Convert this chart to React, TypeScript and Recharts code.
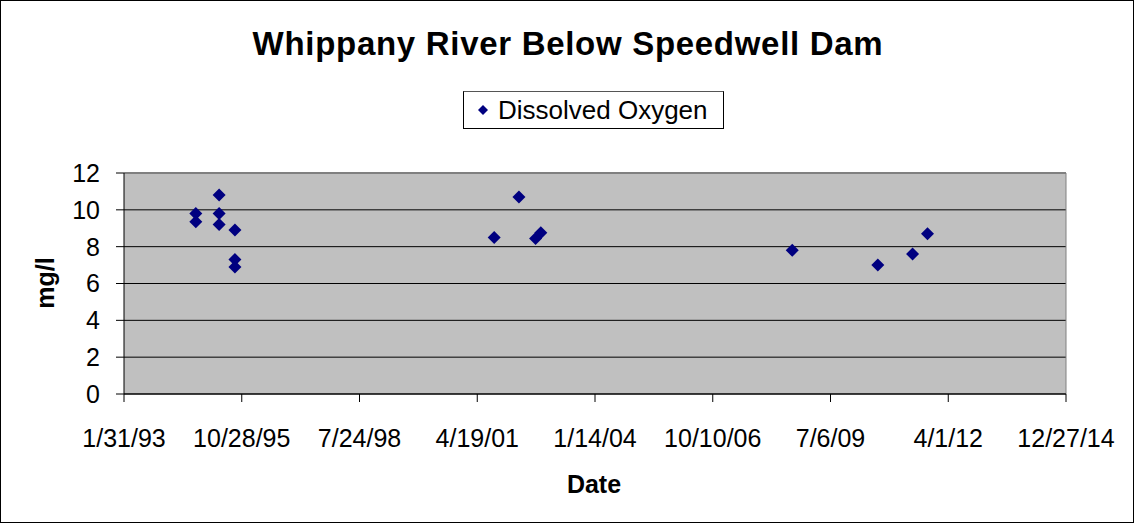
import React from 'react';
import {
  ScatterChart,
  Scatter,
  XAxis,
  YAxis,
  CartesianGrid,
  ReferenceLine,
  Legend,
} from 'recharts';

// sample dates and dissolved oxygen, mg/l
const sampleDates = [
  '1994-10-03', '1994-10-03',
  '1995-04-19', '1995-04-19', '1995-04-19',
  '1995-08-31', '1995-08-31', '1995-08-31',
  '2001-09-10', '2002-04-08', '2002-08-27', '2002-10-11',
  '2008-08-15', '2010-08-12', '2011-06-03', '2011-10-08',
];
const oxygen = [
  9.8, 9.35,
  10.8, 9.8, 9.2,
  8.9, 7.3, 6.9,
  8.5, 10.7, 8.45, 8.75,
  7.8, 7.0, 7.6, 8.7,
];

const tickDates = [
  '1993-01-31', '1995-10-28', '1998-07-24', '2001-04-19', '2004-01-14',
  '2006-10-10', '2009-07-06', '2012-04-01', '2014-12-27',
];
const yTicks = [0, 2, 4, 6, 8, 10, 12];

const FONT = 'Arial, "Liberation Sans", sans-serif';

const dayNum = (s: string) => {
  const [y, m, d] = s.split('-').map(Number);
  return Date.UTC(y, m - 1, d) / 86400000;
};

const fmtDate = (v: number) => {
  const d = new Date(v * 86400000);
  const yy = String(d.getUTCFullYear() % 100).padStart(2, '0');
  return `${d.getUTCMonth() + 1}/${d.getUTCDate()}/${yy}`;
};

const data = sampleDates.map((s, i) => ({ date: dayNum(s), value: oxygen[i] }));
const xTicks = tickDates.map(dayNum);

const Diamond = (props: any) => {
  const { cx, cy } = props;
  const r = 6.5;
  return (
    <polygon
      points={`${cx},${cy - r} ${cx + r},${cy} ${cx},${cy + r} ${cx - r},${cy}`}
      fill="#000080"
    />
  );
};

const LegendBox = () => (
  <div
    style={{
      width: 261,
      height: 38,
      boxSizing: 'border-box',
      border: '1px solid #000',
      borderTopColor: '#555',
      background: '#fff',
      display: 'flex',
      alignItems: 'center',
      fontFamily: FONT,
      fontSize: 26,
      color: '#000',
    }}
  >
    <svg width={34} height={20} style={{ flex: 'none' }}>
      <polygon points="19,5 24,10 19,15 14,10" fill="#000080" />
    </svg>
    <span>Dissolved Oxygen</span>
  </div>
);

export default function App() {
  const W = 1134;
  const H = 523;
  return (
    <div style={{ position: 'fixed', left: 0, top: 0, width: W, height: H, background: '#fff' }}>
      <ScatterChart
        width={W}
        height={H}
        margin={{ top: 173, right: 68, left: 0, bottom: 69 }}
      >
        <CartesianGrid vertical={false} fill="#C0C0C0" fillOpacity={1} stroke="#000" />
        <XAxis
          type="number"
          dataKey="date"
          domain={[xTicks[0], xTicks[xTicks.length - 1]]}
          ticks={xTicks}
          tickFormatter={fmtDate}
          interval={0}
          height={60}
          tickSize={8}
          tickMargin={27}
          axisLine={{ stroke: '#000' }}
          tickLine={{ stroke: '#000' }}
          tick={{ fontSize: 25, fill: '#000', fontFamily: FONT }}
        />
        <YAxis
          type="number"
          dataKey="value"
          domain={[0, 12]}
          ticks={yTicks}
          interval={0}
          width={124}
          tickSize={8}
          tickMargin={16}
          axisLine={{ stroke: '#000' }}
          tickLine={{ stroke: '#000' }}
          tick={{ fontSize: 25, fill: '#000', fontFamily: FONT }}
        />
        <ReferenceLine y={12} stroke="#808080" strokeWidth={2} />
        <ReferenceLine x={xTicks[xTicks.length - 1]} stroke="#808080" />
        <Legend
          layout="vertical"
          align="center"
          verticalAlign="middle"
          content={() => <LegendBox />}
          wrapperStyle={{ position: 'absolute', left: 463, top: 91, width: 261, height: 38 }}
        />
        <Scatter
          name="Dissolved Oxygen"
          data={data}
          shape={<Diamond />}
          isAnimationActive={false}
        />
      </ScatterChart>

      <svg
        width={W}
        height={H}
        style={{ position: 'absolute', left: 0, top: 0, pointerEvents: 'none' }}
      >
        <rect x={0.5} y={0.5} width={W - 1} height={H - 1} fill="none" stroke="#000" />
        <text
          x={568}
          y={55}
          textAnchor="middle"
          fontFamily={FONT}
          fontWeight="bold"
          fontSize={33}
          letterSpacing={0.7}
        >
          Whippany River Below Speedwell Dam
        </text>
        <text
          x={594}
          y={493}
          textAnchor="middle"
          fontFamily={FONT}
          fontWeight="bold"
          fontSize={25}
        >
          Date
        </text>
        <text
          x={0}
          y={0}
          transform="translate(54,283) rotate(-90)"
          textAnchor="middle"
          fontFamily={FONT}
          fontWeight="bold"
          fontSize={25}
        >
          mg/l
        </text>
      </svg>
    </div>
  );
}
